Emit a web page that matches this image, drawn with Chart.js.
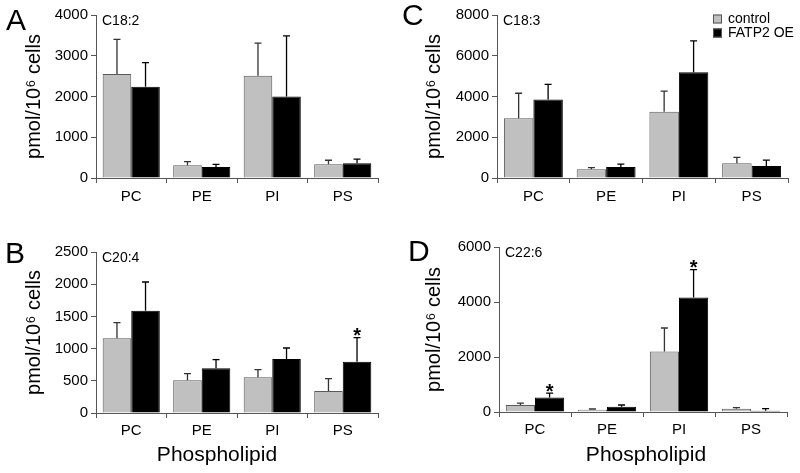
<!DOCTYPE html>
<html><head><meta charset="utf-8">
<script src="https://cdn.jsdelivr.net/npm/chart.js@4"></script>
<style>
body{margin:0;background:#fff;width:800px;height:473px;position:relative;overflow:hidden;font-family:"Liberation Sans",Arial,sans-serif}
canvas{position:absolute}
.lt{position:absolute;font-size:30px;line-height:30px;color:#000}
</style></head><body>
<canvas id="cA" width="400" height="210" style="left:0;top:0"></canvas>
<canvas id="cC" width="400" height="210" style="left:400px;top:0"></canvas>
<canvas id="cB" width="400" height="263" style="left:0;top:210px"></canvas>
<canvas id="cD" width="400" height="263" style="left:400px;top:210px"></canvas>
<div class="lt" style="left:6px;top:5px">A</div>
<div class="lt" style="left:402px;top:0px">C</div>
<div class="lt" style="left:5px;top:238px">B</div>
<div class="lt" style="left:408px;top:236px">D</div>
<script>
const categories = ['PC', 'PE', 'PI', 'PS'];
const seriesNames = ['control', 'FATP2 OE'];
const yTitle = 'pmol/10\u2076 cells';
const xTitle = 'Phospholipid';

// Panel A  C18:2
const A_control = [2550, 310, 2510, 335];
const A_controlSD = [850, 90, 800, 100];
const A_fatp2 = [2240, 270, 2000, 360];
const A_fatp2SD = [590, 65, 1490, 105];
const A_sig = [false, false, false, false];
// Panel B  C20:4
const B_control = [1160, 507, 554, 342];
const B_controlSD = [243, 104, 119, 191];
const B_fatp2 = [1589, 694, 838, 797];
const B_fatp2SD = [445, 134, 171, 373];
const B_sig = [false, false, false, true];
// Panel C  C18:3
const C_control = [2930, 425, 3250, 720];
const C_controlSD = [1230, 80, 1010, 290];
const C_fatp2 = [3850, 540, 5190, 590];
const C_fatp2SD = [750, 145, 1540, 290];
const C_sig = [false, false, false, false];
// Panel D  C22:6
const D_control = [254, 85, 2200, 121];
const D_controlSD = [72, 24, 855, 36];
const D_fatp2 = [531, 193, 4165, 48];
const D_fatp2SD = [157, 61, 1015, 73];
const D_sig = [true, false, true, false];

const FONT = '"Liberation Sans", Arial, sans-serif';
const AXIS = '#555';

const errPlugin = {
  id: 'errbars',
  afterDatasetsDraw(chart, args, o) {
    const ctx = chart.ctx, y = chart.scales.y, ca = chart.chartArea;
    ctx.save();
    chart.data.datasets.forEach((ds, i) => {
      const meta = chart.getDatasetMeta(i);
      meta.data.forEach((bar, j) => {
        const top = y.getPixelForValue(ds.data[j] + ds.sd[j]);
        ctx.strokeStyle = ds.errColor;
        ctx.lineWidth = 1.3;
        ctx.beginPath();
        ctx.moveTo(bar.x, bar.y);
        ctx.lineTo(bar.x, top);
        ctx.moveTo(bar.x - 3.5, top);
        ctx.lineTo(bar.x + 3.5, top);
        ctx.stroke();
        if (ds.sig && ds.sig[j]) {
          ctx.fillStyle = '#000';
          ctx.font = 'bold 20px ' + FONT;
          ctx.textAlign = 'center';
          ctx.textBaseline = 'alphabetic';
          ctx.fillText('*', bar.x, top + 4.6);
        }
      });
    });
    ctx.fillStyle = '#000';
    ctx.font = '14px ' + FONT;
    ctx.textAlign = 'left';
    ctx.textBaseline = 'middle';
    ctx.fillText(o.label, ca.left + 6, ca.top + 6);
    if (o.legend) {
      const x = ca.right - 75;
      const cols = ['#c0c0c0', '#000'];
      ctx.font = '14px ' + FONT;
      seriesNames.forEach((n, k) => {
        const yy = ca.top + 4 + k * 14;
        ctx.fillStyle = cols[k];
        ctx.fillRect(x, yy - 4.5, 9, 9);
        ctx.strokeStyle = '#555';
        ctx.lineWidth = 1;
        ctx.strokeRect(x + 0.5, yy - 4, 8, 8);
        ctx.fillStyle = '#000';
        ctx.fillText(n, x + 15, yy + 0.5);
      });
    }
    if (o.xTitle) {
      ctx.font = '21px ' + FONT;
      ctx.textAlign = 'center';
      ctx.textBaseline = 'alphabetic';
      ctx.fillText(xTitle, (ca.left + ca.right) / 2 + o.xShift, chart.height - 12);
    }
    ctx.restore();
  }
};

function makeChart(id, ctrl, ctrlSD, fat, fatSD, sig, max, step, label, lay, showXTitle, legend) {
  return new Chart(document.getElementById(id), {
    type: 'bar',
    data: {
      labels: categories,
      datasets: [
        { label: seriesNames[0], data: ctrl, sd: ctrlSD, errColor: '#333',
          backgroundColor: '#c0c0c0', borderColor: '#5a5a5a', borderWidth: 1,
          categoryPercentage: 0.81, barPercentage: 1.0 },
        { label: seriesNames[1], data: fat, sd: fatSD, sig: sig, errColor: '#000',
          backgroundColor: '#000', borderColor: '#000', borderWidth: 1,
          categoryPercentage: 0.81, barPercentage: 1.0 }
      ]
    },
    options: {
      responsive: false, animation: false, devicePixelRatio: 1,
      layout: { padding: lay.pad },
      plugins: { legend: { display: false }, tooltip: { enabled: false },
                 errbars: { label: label, legend: legend, xTitle: showXTitle, xShift: lay.xShift || 0 } },
      scales: {
        x: {
          grid: { display: true, drawOnChartArea: false, drawTicks: true, tickLength: 5, color: AXIS, offset: true },
          border: { color: AXIS, width: 1 },
          ticks: { font: { size: 15, family: FONT }, color: '#000', padding: lay.xPad },
          afterFit: s => { s.height = lay.xH; }
        },
        y: {
          min: 0, max: max,
          grid: { display: true, drawOnChartArea: false, drawTicks: true, tickLength: 5, color: AXIS },
          border: { color: AXIS, width: 1 },
          ticks: { stepSize: step, font: { size: 15, family: FONT }, color: '#000', padding: 3,
                   callback: v => String(v) },
          title: { display: true, text: yTitle, color: '#000', font: { size: 20, family: FONT }, padding: { top: 0, bottom: 2 } },
          afterFit: s => { s.width = lay.yW; }
        }
      }
    },
    plugins: [errPlugin]
  });
}

makeChart('cA', A_control, A_controlSD, A_fatp2, A_fatp2SD, A_sig, 4000, 1000, 'C18:2',
  { pad: { left: 22, right: 22, top: 15, bottom: 0 }, yW: 74, xH: 32, xPad: 5 }, false, false);
makeChart('cC', C_control, C_controlSD, C_fatp2, C_fatp2SD, C_sig, 8000, 2000, 'C18:3',
  { pad: { left: 22, right: 12, top: 15, bottom: 0 }, yW: 75, xH: 32, xPad: 5 }, false, true);
makeChart('cB', B_control, B_controlSD, B_fatp2, B_fatp2SD, B_sig, 2500, 500, 'C20:4',
  { pad: { left: 22, right: 22, top: 42, bottom: 0 }, yW: 74, xH: 60, xPad: 4, xShift: -20 }, true, false);
makeChart('cD', D_control, D_controlSD, D_fatp2, D_fatp2SD, D_sig, 6000, 2000, 'C22:6',
  { pad: { left: 22, right: 13, top: 37, bottom: 0 }, yW: 77, xH: 61, xPad: 4, xShift: 3 }, true, false);
</script>
</body></html>
